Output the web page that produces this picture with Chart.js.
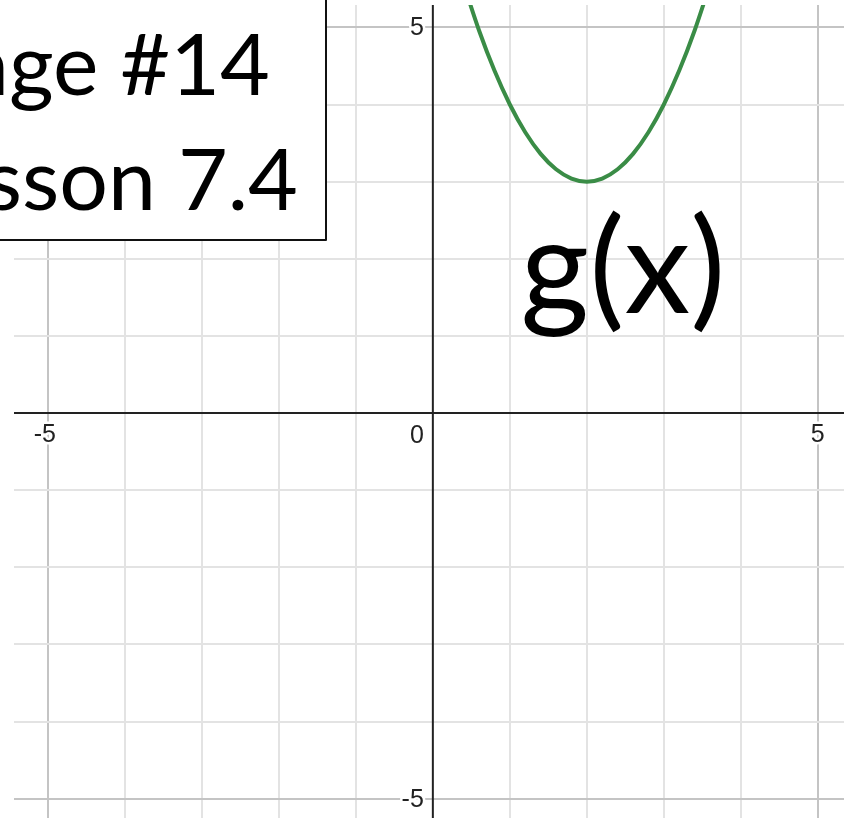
<!DOCTYPE html>
<html>
<head>
<meta charset="utf-8">
<script src="https://cdn.jsdelivr.net/npm/chart.js@4.4.0/dist/chart.umd.min.js"></script>
<style>
  html, body { margin: 0; padding: 0; background: #fff; }
  #wrap { width: 844px; height: 831px; }
</style>
</head>
<body>
<div id="wrap"><canvas id="graph"></canvas></div>
<script>
// points read along g(x)
var curveX = [0.4, 0.6, 0.8, 1.0, 1.2, 1.4, 1.6, 1.8, 2.0, 2.2, 2.4, 2.6, 2.8, 3.0, 3.2, 3.4, 3.6];
var curveY = [5.56, 4.96, 4.44, 4.0, 3.64, 3.36, 3.16, 3.04, 3.0, 3.04, 3.16, 3.36, 3.64, 4.0, 4.44, 4.96, 5.56];

var xTickLabels = [-5, 0, 5];
var yTickLabels = [5, -5];

var boxLines = ['Challenge #14', 'Lesson 7.4'];
var curveName = 'g(x)';

var points = curveX.map(function (x, i) { return { x: x, y: curveY[i] }; });

function gridColor(ctx) {
    var v = ctx.tick && ctx.tick.value;
    if (v === 0) return 'rgba(0,0,0,0)';
    if (Math.abs(v) === 5) return '#c4c4c4';
    return '#e3e3e3';
}

var graphOverlay = {
    id: 'graphOverlay',
    beforeDatasetsDraw: function (chart) {
        var c = chart.ctx, a = chart.chartArea;
        var x0 = chart.scales.x.getPixelForValue(0);
        var y0 = chart.scales.y.getPixelForValue(0);
        c.save();
        c.strokeStyle = '#222';
        c.lineWidth = 2;
        c.beginPath();
        c.moveTo(a.left, y0); c.lineTo(a.right, y0);
        c.moveTo(x0, a.top); c.lineTo(x0, a.bottom);
        c.stroke();
        c.restore();
    },
    afterDatasetsDraw: function (chart) {
        var c = chart.ctx;
        var sx = chart.scales.x, sy = chart.scales.y;
        var x0 = sx.getPixelForValue(0), y0 = sy.getPixelForValue(0);
        c.save();
        c.font = '25px "Liberation Sans", Arial, sans-serif';
        c.fillStyle = '#222';
        c.strokeStyle = '#fff';
        c.lineWidth = 5;
        c.lineJoin = 'round';

        // numbers along the x axis, just under it
        c.textBaseline = 'top';
        xTickLabels.forEach(function (v) {
            var px = sx.getPixelForValue(v), s = String(v);
            if (v === 0) {
                c.textAlign = 'right';
                c.strokeText(s, x0 - 9, y0 + 11);
                c.fillText(s, x0 - 9, y0 + 11);
            } else {
                c.textAlign = 'center';
                var dx = v < 0 ? -3 : 0;
                c.strokeText(s, px + dx, y0 + 10);
                c.fillText(s, px + dx, y0 + 10);
            }
        });

        // numbers along the y axis, left of it
        c.textAlign = 'right';
        c.textBaseline = 'middle';
        yTickLabels.forEach(function (v) {
            var py = sy.getPixelForValue(v), s = String(v);
            c.strokeText(s, x0 - 9, py + 1);
            c.fillText(s, x0 - 9, py + 1);
        });

        // title box in the corner
        c.fillStyle = '#fff';
        c.fillRect(-4, -4, 330, 244);
        c.strokeStyle = '#111';
        c.lineWidth = 2;
        c.strokeRect(-4, -4, 330, 244);
        c.fillStyle = '#000';
        c.font = '86px Lato, "Open Sans", sans-serif';
        c.textAlign = 'right';
        c.textBaseline = 'alphabetic';
        c.fillText(boxLines[0], 270, 95);
        c.fillText(boxLines[1], 298, 210);

        // curve name
        c.font = '132px Lato, "Open Sans", sans-serif';
        c.textAlign = 'center';
        c.fillText(curveName, 623, 313);
        c.restore();
    }
};

new Chart(document.getElementById('graph').getContext('2d'), {
    type: 'scatter',
    data: {
        datasets: [{
            data: points,
            showLine: true,
            borderColor: '#3a8c46',
            borderWidth: 4,
            pointRadius: 0,
            cubicInterpolationMode: 'monotone',
            fill: false
        }]
    },
    options: {
        responsive: true,
        maintainAspectRatio: false,
        animation: false,
        layout: { padding: { left: 14, top: 5, right: 0, bottom: 13 } },
        plugins: {
            legend: { display: false },
            tooltip: { enabled: false }
        },
        scales: {
            x: {
                type: 'linear',
                min: -5.44,
                max: 5.34,
                ticks: { display: false, stepSize: 1, includeBounds: false },
                grid: { color: gridColor, lineWidth: 2, drawTicks: false },
                border: { display: false }
            },
            y: {
                type: 'linear',
                min: -5.25,
                max: 5.29,
                ticks: { display: false, stepSize: 1, includeBounds: false },
                grid: { color: gridColor, lineWidth: 2, drawTicks: false },
                border: { display: false }
            }
        }
    },
    plugins: [graphOverlay]
});
</script>
</body>
</html>
